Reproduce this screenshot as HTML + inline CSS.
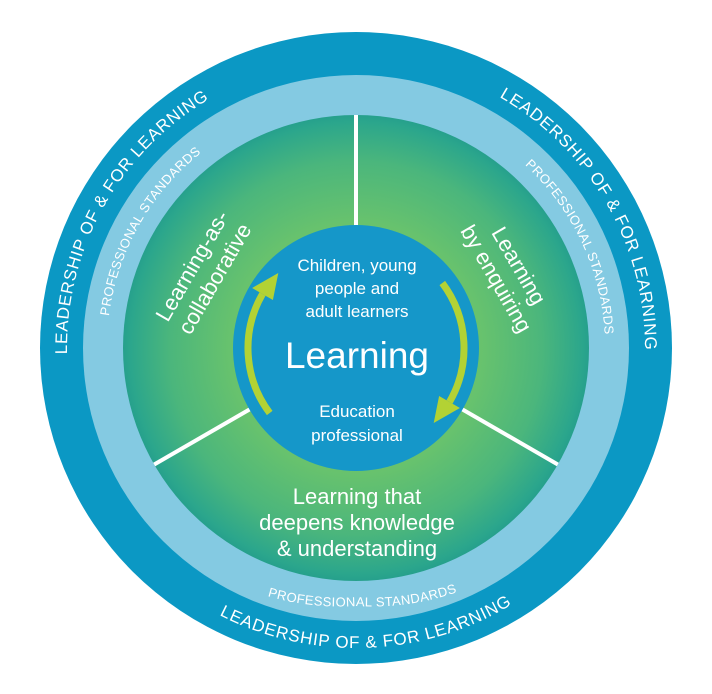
<!DOCTYPE html>
<html><head><meta charset="utf-8"><style>
html,body{margin:0;padding:0;background:#fff;}
svg{display:block;font-family:"Liberation Sans",Arial,sans-serif;}
</style></head><body>
<svg width="712" height="694" viewBox="0 0 712 694" xmlns="http://www.w3.org/2000/svg">
<defs>
<radialGradient id="g" cx="356" cy="348" r="233" gradientUnits="userSpaceOnUse">
<stop offset="0.5" stop-color="#6cc46b"/>
<stop offset="0.8" stop-color="#4bb67c"/>
<stop offset="0.97" stop-color="#2ba68c"/>
<stop offset="1" stop-color="#26a08c"/>
</radialGradient>
<path id="cwO" d="M356,637 A289,289 0 1 1 356,59 A289,289 0 1 1 356,637"/>
<path id="ccwO" d="M356,48 A300,300 0 1 0 356,648 A300,300 0 1 0 356,48"/>
<path id="cwP" d="M356,597 A249,249 0 1 1 356,99 A249,249 0 1 1 356,597"/>
<path id="ccwP" d="M356,91 A258,258 0 1 0 356,606 A258,258 0 1 0 356,91"/>
</defs>
<circle cx="356" cy="348" r="316" fill="#0b98c4"/>
<circle cx="356" cy="348" r="273" fill="#84cae2"/>
<circle cx="356" cy="348" r="233" fill="url(#g)"/>
<g stroke="#fff" stroke-width="4">
<line x1="356" y1="115" x2="356" y2="226"/>
<line x1="250.3" y1="409" x2="154.2" y2="464.5"/>
<line x1="461.7" y1="409" x2="557.8" y2="464.5"/>
</g>
<circle cx="356" cy="348" r="123" fill="#1597c9"/>
<g fill="none" stroke="#b3d234" stroke-width="7">
<path d="M269.7,413 A108,108 0 0 1 262.5,294"/>
<path d="M442.3,283 A108,108 0 0 1 449.5,402"/>
</g>
<polygon points="272.9,300 252.1,288 278.3,273" fill="#b3d234"/>
<polygon points="439.1,396 459.9,408 433.7,423" fill="#b3d234"/>

<g fill="#fff" font-size="17" letter-spacing="0.8">
<text><textPath href="#cwO" startOffset="33.1%" text-anchor="middle">LEADERSHIP OF &amp; FOR LEARNING</textPath></text>
<text><textPath href="#cwO" startOffset="66.7%" text-anchor="middle">LEADERSHIP OF &amp; FOR LEARNING</textPath></text>
<text><textPath href="#ccwO" startOffset="50.6%" text-anchor="middle">LEADERSHIP OF &amp; FOR LEARNING</textPath></text>
</g>
<g fill="#fff" font-size="13" letter-spacing="0.4">
<text><textPath href="#cwP" startOffset="33.2%" text-anchor="middle">PROFESSIONAL STANDARDS</textPath></text>
<text><textPath href="#cwP" startOffset="68%" text-anchor="middle">PROFESSIONAL STANDARDS</textPath></text>
<text><textPath href="#ccwP" startOffset="50.4%" text-anchor="middle">PROFESSIONAL STANDARDS</textPath></text>
</g>

<g fill="#fff" font-size="22" text-anchor="middle">
<g transform="translate(203,272) rotate(-60)">
<text x="0" y="-5">Learning-as-</text>
<text x="0" y="21">collaborative</text>
</g>
<g transform="translate(508,272) rotate(60)">
<text x="0" y="-5">Learning</text>
<text x="0" y="21">by enquiring</text>
</g>
<text x="357" y="504">Learning that</text>
<text x="357" y="530">deepens knowledge</text>
<text x="357" y="556">&amp; understanding</text>
</g>
<g fill="#fff" text-anchor="middle" font-size="17">
<text x="357" y="271">Children, young</text>
<text x="357" y="294">people and</text>
<text x="357" y="317">adult learners</text>
<text x="357" y="417">Education</text>
<text x="357" y="441">professional</text>
<text x="357" y="368" font-size="37">Learning</text>
</g>
</svg>
</body></html>
